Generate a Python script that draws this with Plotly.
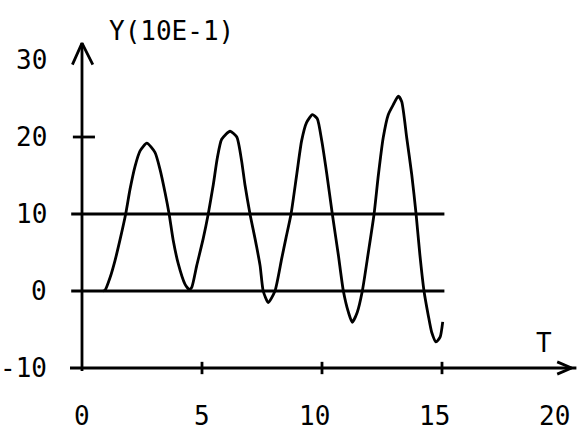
import plotly.graph_objects as go

# ---- data ----
t_vals = [0.88, 0.96, 1.17, 1.375, 1.58, 1.82, 2.00, 2.21, 2.42, 2.70, 3.04, 3.25,
          3.46, 3.63, 3.80, 4.01, 4.29, 4.47, 4.57, 4.78, 5.05, 5.26, 5.47, 5.64,
          5.82, 6.17, 6.45, 6.65, 6.79, 7.00, 7.21, 7.42, 7.55, 7.76, 8.04, 8.32,
          8.50, 8.71, 8.95, 9.15, 9.36, 9.60, 9.80, 9.99, 10.20, 10.43, 10.68, 10.89,
          11.10, 11.26, 11.47, 11.68, 11.93, 12.17, 12.35, 12.55, 12.76, 12.97, 13.18,
          13.32, 13.53, 13.74, 13.92, 14.08, 14.25, 14.43, 14.57, 14.75, 14.92, 15.03]
y_vals = [0.0, 0.1, 1.75, 3.95, 6.6, 10.0, 13.2, 16.2, 18.2, 19.2, 18.0, 15.8,
          12.8, 10.0, 6.6, 3.55, 0.9, 0.2, 0.45, 3.3, 6.8, 10.0, 13.8, 17.3,
          19.7, 20.75, 20.0, 16.9, 13.8, 10.0, 6.8, 3.3, 0.0, -1.5, 0.0, 4.2,
          6.9, 10.0, 15.2, 19.5, 21.9, 22.9, 22.4, 19.5, 15.2, 10.0, 4.7, 0.0,
          -2.75, -4.06, -2.75, 0.0, 5.0, 10.0, 15.1, 19.9, 22.9, 24.2, 25.3,
          24.6, 19.9, 15.1, 10.0, 4.65, 0.0, -3.2, -5.35, -6.6, -6.0, -4.0]

ref_levels = [0, 10]
ref_start, ref_end = -0.45, 15.1

x_ticks = [0, 5, 10, 15, 20]
x_tick_labels = ["0", "5", "10", "15", "20"]
y_ticks = [30, 20, 10, 0, -10]
y_tick_labels = ["30", "20", "10", "0", "-10"]

x_axis_min, x_axis_max = -0.5, 20.6
y_axis_min, y_axis_max = -10, 32.2

y_title = "Y(10E-1)"
x_title = "T"

INK = "black"
FONT = dict(family="DejaVu Sans Mono", size=26, color=INK)
LW = 2.8

fig = go.Figure()

# main curve
fig.add_trace(go.Scatter(x=t_vals, y=y_vals, mode="lines",
                         line=dict(color=INK, width=LW, shape="spline", smoothing=0.6)))

# reference horizontal lines
for lv in ref_levels:
    fig.add_trace(go.Scatter(x=[ref_start, ref_end], y=[lv, lv], mode="lines",
                             line=dict(color=INK, width=LW)))

# x axis line with arrowhead
fig.add_trace(go.Scatter(x=[x_axis_min, x_axis_max], y=[y_axis_min, y_axis_min],
                         mode="lines", line=dict(color=INK, width=LW)))
fig.add_trace(go.Scatter(x=[x_axis_max - 0.8, x_axis_max - 0.2, x_axis_max - 0.8],
                         y=[y_axis_min + 0.8, y_axis_min, y_axis_min - 0.8],
                         mode="lines", line=dict(color=INK, width=LW)))
# y axis line with arrowhead
fig.add_trace(go.Scatter(x=[0, 0], y=[y_axis_min - 0.4, y_axis_max], mode="lines",
                         line=dict(color=INK, width=LW)))
fig.add_trace(go.Scatter(x=[-0.4, 0, 0.45], y=[y_axis_max - 2.8, y_axis_max, y_axis_max - 2.8],
                         mode="lines", line=dict(color=INK, width=LW)))

# x tick marks
for xt in x_ticks[1:-1]:
    fig.add_trace(go.Scatter(x=[xt, xt], y=[y_axis_min - 0.8, y_axis_min + 0.8],
                             mode="lines", line=dict(color=INK, width=LW)))
# y tick mark at 20
fig.add_trace(go.Scatter(x=[-0.38, 0.54], y=[20, 20], mode="lines",
                         line=dict(color=INK, width=LW)))

# tick labels
for xt, lab in zip(x_ticks, x_tick_labels):
    fig.add_annotation(x=xt, y=y_axis_min - 6.2, text=lab, showarrow=False,
                       xanchor="center", yanchor="middle", font=FONT,
                       xshift=-8 * (len(lab) - 1))
for yt, lab in zip(y_ticks, y_tick_labels):
    fig.add_annotation(x=-1.40, y=yt, text=lab, showarrow=False,
                       xanchor="right", yanchor="middle", font=FONT, borderpad=0)

fig.add_annotation(x=3.73, y=33.8, text=y_title, showarrow=False,
                   xanchor="center", yanchor="middle", font=FONT)
fig.add_annotation(x=19.25, y=-6.75, text=x_title, showarrow=False,
                   xanchor="center", yanchor="middle", font=FONT)

fig.update_layout(
    width=587, height=437, autosize=False,
    margin=dict(l=0, r=0, t=0, b=0, pad=0),
    paper_bgcolor="white", plot_bgcolor="white",
    showlegend=False,
    xaxis=dict(range=[-82 / 24, (587 - 82) / 24], visible=False, fixedrange=True),
    yaxis=dict(range=[(291 - 437) / 7.7, 291 / 7.7], visible=False, fixedrange=True),
)

fig.write_html("out.html", config={"displayModeBar": False},
               post_script="document.body.style.margin='0px';")
